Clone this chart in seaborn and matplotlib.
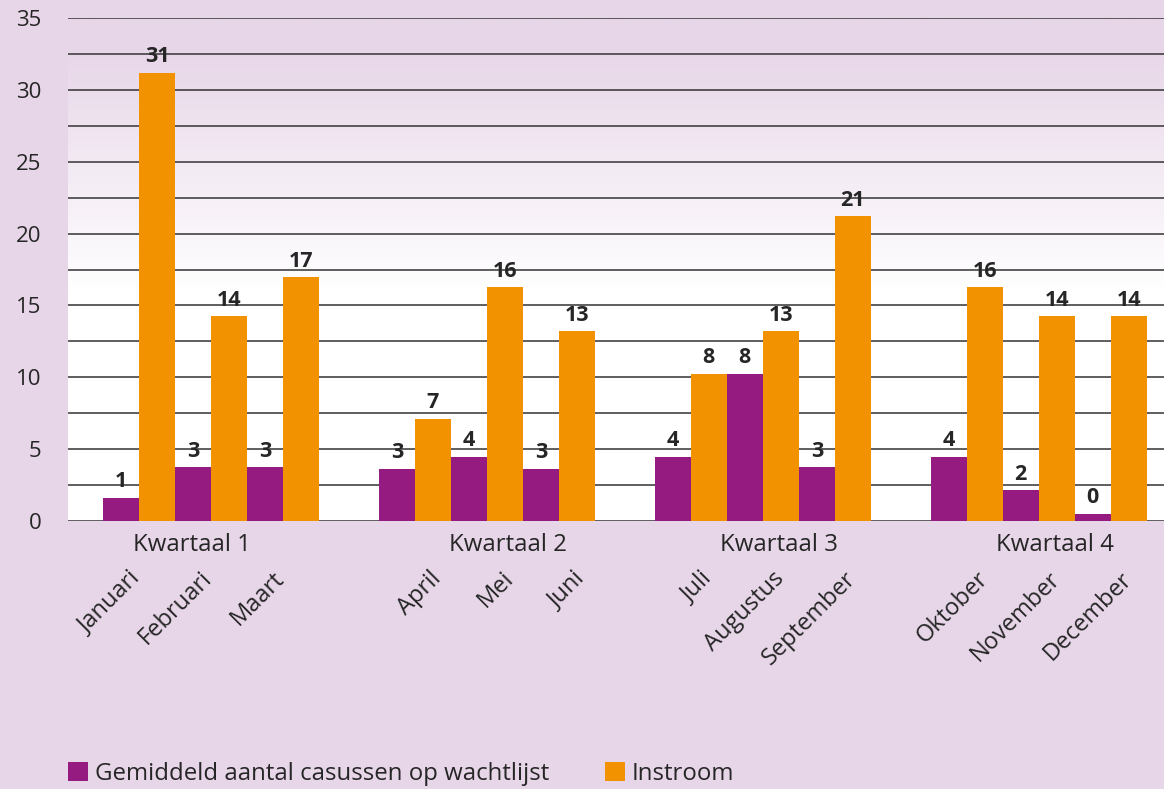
import numpy as np
import pandas as pd
import matplotlib.pyplot as plt
import seaborn as sns
from matplotlib.colors import LinearSegmentedColormap

# Gegevens
maanden = ["Januari", "Februari", "Maart", "April", "Mei", "Juni",
           "Juli", "Augustus", "September", "Oktober", "November", "December"]
kwartalen = ["Kwartaal 1", "Kwartaal 2", "Kwartaal 3", "Kwartaal 4"]
series = ["Gemiddeld aantal casussen op wachtlijst", "Instroom"]

wachtlijst = [1.6, 3.75, 3.75, 3.65, 4.45, 3.65, 4.45, 10.25, 3.75, 4.45, 2.15, 0.5]
instroom = [31.2, 14.25, 16.95, 7.1, 16.25, 13.2, 10.25, 13.2, 21.2, 16.25, 14.25, 14.25]
wachtlijst_labels = ["1", "3", "3", "3", "4", "3", "4", "8", "3", "4", "2", "0"]
instroom_labels = ["31", "14", "17", "7", "16", "13", "8", "13", "21", "16", "14", "14"]

# Kleuren
paars = "#951B81"
oranje = "#F39200"
achtergrond = "#E7D6E8"

# Posities: maanden naast elkaar, extra ruimte tussen kwartalen
kwartaal_gat = 0.83
pos = [i + (i // 3) * kwartaal_gat for i in range(len(maanden))]

df = pd.DataFrame({
    "pos": pos * 2,
    "waarde": wachtlijst + instroom,
    "serie": [series[0]] * len(maanden) + [series[1]] * len(maanden),
})

sns.set_style("white")
plt.rcParams["font.family"] = ["Open Sans", "DejaVu Sans"]

fig = plt.figure(figsize=(11.64, 7.89), dpi=100, facecolor=achtergrond)
ax = fig.add_axes([68 / 1164, 268 / 789, 1 - 68 / 1164, 503 / 789])

xmin, xmax = pos[0] - 0.986, pos[-1] + 0.74

# Verloop in de achtergrond van het plotvlak
y = np.linspace(0, 35, 300)
grad = np.clip((y - 16) / (33 - 16), 0, 1)[:, None]
cmap = LinearSegmentedColormap.from_list("verloop", ["#FFFFFF", achtergrond])
ax.imshow(grad, extent=(xmin, xmax, 0, 35), aspect="auto", cmap=cmap,
          origin="lower", zorder=0, vmin=0, vmax=1)

sns.barplot(data=df, x="pos", y="waarde", hue="serie", hue_order=series,
            palette=[paars, oranje], native_scale=True, width=1.0,
            dodge=True, saturation=1, errorbar=None, ax=ax, zorder=3,
            linewidth=0, edgecolor="none")

ax.bar_label(ax.containers[0], labels=wachtlijst_labels, padding=4,
             fontsize=15.5, fontweight="bold", zorder=4)
ax.bar_label(ax.containers[1], labels=instroom_labels, padding=4,
             fontsize=15.5, fontweight="bold", zorder=4)

ax.set_xlim(xmin, xmax)
ax.set_ylim(0, 35)
ax.set_yticks(np.arange(0, 36, 5))
ax.set_yticks(np.arange(0, 36, 2.5), minor=True)
ax.grid(axis="y", which="both", color="#333333", linewidth=1.1, zorder=1)
ax.set_axisbelow(True)
ax.tick_params(axis="y", which="both", length=0, pad=19, labelsize=16)
ax.set_facecolor("none")

# Maandlabels, per kwartaal iets verschoven zoals in het origineel
label_verschuiving = [-0.15, 0.2, 0.13, 0.13]
tick_pos = [p + label_verschuiving[i // 3] for i, p in enumerate(pos)]
ax.set_xticks(tick_pos)
ax.set_xticklabels(maanden, rotation=45, ha="right", rotation_mode="anchor")
ax.tick_params(axis="x", length=0, pad=33, labelsize=17)
ax.set_xlabel("")
ax.set_ylabel("")
for s in ax.spines.values():
    s.set_visible(False)

# Kwartaallabels onder de as
verschuiving = [-0.26, 0.29, 0.22, 0.22]
for k, naam in enumerate(kwartalen):
    ax.text(pos[3 * k + 1] + verschuiving[k], -0.048, naam,
            transform=ax.get_xaxis_transform(), ha="center", va="center",
            fontsize=17.3)

sns.move_legend(ax, "lower left", bbox_to_anchor=(68 / 1164, 3 / 789),
                bbox_transform=fig.transFigure, ncol=2, title=None,
                frameon=False, fontsize=17.3, handlelength=0.83,
                handleheight=0.83, handletextpad=0.3, columnspacing=2.3,
                borderpad=0, borderaxespad=0)

fig.savefig("out.png", dpi=100, facecolor=achtergrond)
